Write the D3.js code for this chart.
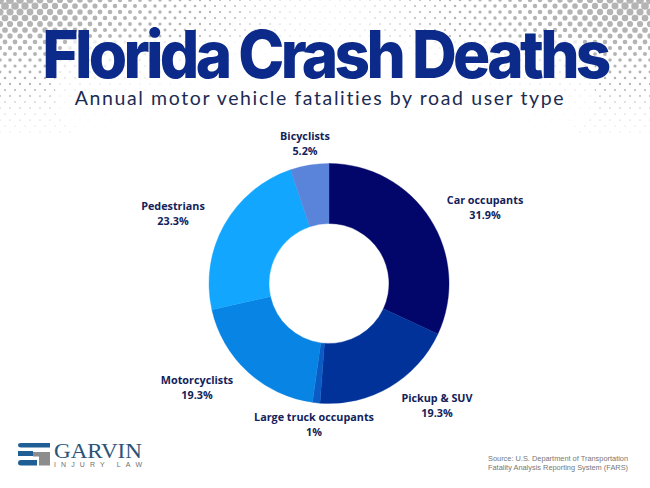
<!DOCTYPE html>
<html>
<head>
<meta charset="utf-8">
<script src="https://cdn.jsdelivr.net/npm/d3@7"></script>
<style>
  html, body { margin: 0; padding: 0; background: #fff; }
  svg { display: block; }
</style>
</head>
<body>
<svg width="650" height="488"></svg>
<script>
var categories = ["Car occupants", "Pickup & SUV", "Large truck occupants", "Motorcyclists", "Pedestrians", "Bicyclists"];
var shares = [31.9, 19.3, 1, 19.3, 23.3, 5.2];
var shareLabels = ["31.9%", "19.3%", "1%", "19.3%", "23.3%", "5.2%"];
var sliceColors = ["#02066a", "#003299", "#0a5cc4", "#0784e4", "#12a6ff", "#5a84da"];

var svg = d3.select("svg");
var width = 650, height = 488;
var cx = 329, cy = 283.5, outerR = 120, innerR = 60;

// halftone dots in the two top corners
var dots = svg.append("g").attr("fill", "#b4b4b4");
function dotSize(x, y) {
    var d = Math.min(
        Math.sqrt(Math.pow(x / 340, 2) + Math.pow(y / 135, 2)),
        Math.sqrt(Math.pow((width - x) / 340, 2) + Math.pow(y / 135, 2))
    );
    if (d > 1) return 0;
    return 0.45 + 3.7 * Math.pow(1 - d, 1.7);
}
for (var row = 0; row < 24; row++) {
    for (var col = 0; col < 66; col++) {
        var px = col * 10 + (row % 2 ? 5 : 0);
        var py = row * 6;
        var r = dotSize(px, py);
        if (r > 0) dots.append("circle").attr("cx", px).attr("cy", py).attr("r", r);
    }
}

// white glow behind the heading so the dots fade out around it
svg.append("rect")
    .attr("x", 55).attr("y", 38).attr("width", 540).attr("height", 90)
    .attr("rx", 30)
    .attr("fill", "#fff").attr("opacity", 0.75);

// title
svg.append("text")
    .attr("transform", "translate(325,78) scale(1,1.06)")
    .attr("text-anchor", "middle")
    .attr("font-family", "Inter, 'Open Sans', sans-serif")
    .attr("font-weight", 800)
    .attr("font-size", 62)
    .attr("letter-spacing", -3.7)
    .attr("fill", "#0b2a8a")
    .text("Florida Crash Deaths");

svg.append("text")
    .attr("x", 320).attr("y", 105)
    .attr("text-anchor", "middle")
    .attr("font-family", "Lato, sans-serif")
    .attr("font-size", 19.5)
    .attr("letter-spacing", 1.6)
    .attr("fill", "#1c2b52")
    .text("Annual motor vehicle fatalities by road user type");

// donut
var pie = d3.pie().sort(null).value(function(d) { return d; });
var arc = d3.arc().innerRadius(innerR).outerRadius(outerR);
var arcs = pie(shares);

svg.append("g")
    .attr("transform", "translate(" + cx + "," + cy + ")")
    .selectAll("path")
    .data(arcs)
    .enter()
    .append("path")
    .attr("d", arc)
    .attr("fill", function(d, i) { return sliceColors[i]; })
    .attr("stroke", function(d, i) { return sliceColors[i]; })
    .attr("stroke-width", 0.4);

// labels sit at fixed spots around the ring
var labelX = [485, 437, 314, 197, 173, 305];
var labelY = [204, 402, 421, 384, 210, 140];

var labels = svg.append("g")
    .attr("font-family", "'Open Sans', sans-serif")
    .attr("font-weight", 700)
    .attr("font-size", 10.8)
    .attr("fill", "#12225a")
    .attr("text-anchor", "middle");

categories.forEach(function(name, i) {
    labels.append("text").attr("x", labelX[i]).attr("y", labelY[i]).text(name);
    labels.append("text").attr("x", labelX[i]).attr("y", labelY[i] + 15).text(shareLabels[i]);
});

// logo
var logo = svg.append("g");
logo.append("path")
    .attr("d", "M21 443 L50 443 L50 447.5 L21 447.5 Q18 447.5 18 445 Q18 443 21 443 Z M18 451 L33 451 L33 456 L18 456 Z M21 460 L37 460 L37 465.5 L21 465.5 Q18 465.5 18 463 Q18 460 21 460 Z")
    .attr("fill", "#1f5f96");
logo.append("path")
    .attr("d", "M33 452 L50 452 L50 465.5 L39 465.5 L39 456.5 L33 456.5 Z")
    .attr("fill", "#8d8d8d");
logo.append("text")
    .attr("x", 54).attr("y", 457.5)
    .attr("font-family", "'Liberation Serif', serif")
    .attr("font-size", 22)
    .attr("textLength", 88)
    .attr("lengthAdjust", "spacingAndGlyphs")
    .attr("fill", "#2a5478")
    .text("GARVIN");
logo.append("text")
    .attr("x", 54).attr("y", 466.5)
    .attr("font-family", "'Liberation Sans', sans-serif")
    .attr("font-size", 7)
    .attr("textLength", 88)
    .attr("fill", "#6f6f6f")
    .text("INJURY LAW");

// source
var source = svg.append("g")
    .attr("font-family", "'Liberation Sans', Arial, sans-serif")
    .attr("font-size", 7.4)
    .attr("fill", "#777");
source.append("text").attr("x", 488).attr("y", 461).text("Source: U.S. Department of Transportation");
source.append("text").attr("x", 488).attr("y", 470).text("Fatality Analysis Reporting System (FARS)");
</script>
</body>
</html>
